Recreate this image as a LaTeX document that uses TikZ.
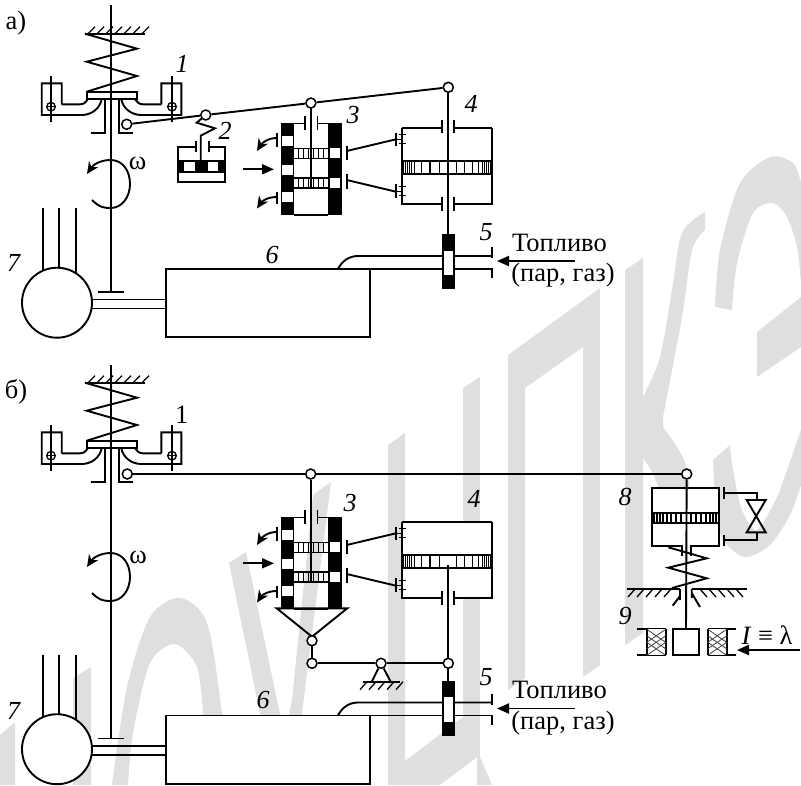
\documentclass[tikz,border=0pt]{standalone}
\usepackage{fontspec}
\setmainfont{Liberation Serif}
\usetikzlibrary{arrows.meta}
\definecolor{wm}{HTML}{DFDFDF}
\tikzset{
  main/.style={line width=1.9pt},
  thin line/.style={line width=1.3pt},
  wmark/.style={fill=wm,draw=none},
  pivot/.style={circle,draw=black,fill=white,line width=1.5pt,inner sep=0pt,minimum size=10pt},
  lab/.style={inner sep=0pt,font=\fontsize{26.5}{26.5}\selectfont},
  ilab/.style={inner sep=0pt,font=\fontsize{26}{26}\selectfont\itshape},
  flow/.style={main,-{Triangle[length=12pt,width=10pt]}},
  bent/.style={main,-{Stealth[length=12pt,width=11pt]}},
  governor/.pic={
    \draw[main] (85,33.7) -- (145,33.7);
    \foreach \x in {88,97,106,115,124,133,142} \draw[thin line] (\x,33.7) -- ++(7,-7);
    \draw[main] (85,33.7) -- (137,48.7) -- (86.7,61.7) -- (137,76) -- (86.7,91.7);
    \draw[main] (86.7,91.7) rectangle (137.3,99.3);
    \foreach \s/\m in {1/0,-1/223} {
      \begin{scope}[xshift=\m pt,xscale=\s]
      \draw[main] (61.7,104.3) -- (61.7,83.3) -- (41.7,83.3) -- (41.7,115) -- (81.7,115) .. controls (92,115) and (100,108) .. (101.7,99.3);
      \draw[main] (61.7,104.3) -- (80,104.3) .. controls (84,104.3) and (86,102) .. (88,99.3);
      \draw[thin line] (51,76) -- (51,121.7);
      \draw[thin line] (51,106.7) circle (4.3pt);
      \draw[thin line] (46,106.7) -- (56,106.7);
      \end{scope}
    }
    \draw[main] (90.7,132.7) -- (105,132.7) -- (105,99.3);
    \draw[main] (133.3,132.7) -- (119,132.7) -- (119,99.3);
  },
  omega/.pic={
    \draw[bent] (92,200) .. controls (100,208) and (105,208) .. (110.7,208) .. controls (122,208) and (130,197) .. (130,184) .. controls (130,170) and (122,160) .. (110.7,160) .. controls (100,160) and (93,165) .. (87,174);
  },
  valve3/.pic={
    \fill (280.7,123.3) rectangle (294,215);
    \fill (328.3,123.3) rectangle (341.7,215);
    \draw[thin line] (294,215) -- (328.3,215);
    \foreach \y in {136,165,191.7} \fill[white] (282.3,\y) rectangle (292.7,\y+9.8);
    \foreach \y in {148.3,178.3} \fill[white] (329.5,\y) rectangle (340,\y+9.5);
    \foreach \y in {148.3,177.9} {
      \draw[thin line] (294,\y) -- (328.3,\y) (294,\y+10) -- (328.3,\y+10);
      \foreach \x in {298.3,303.3,308.3,313.3,318.3,323.3}
        \draw[line width=1.6pt] (\x,\y) -- (\x,\y+10);
    }
    \draw[thin line] (294,123.6) -- (305,123.6) (305,116) -- (305,130);
    \draw[thin line] (328.3,123.6) -- (317.3,123.6) (317.3,116) -- (317.3,130);
    \draw[flow] (242.7,169.3) -- (274,169.3);
    \draw[main] (276.7,133) -- (276.7,146.7) (276.7,191.7) -- (276.7,204);
    \draw[bent] (276.7,138) .. controls (268,138) and (262,143) .. (257,151);
    \draw[bent] (276.7,197) .. controls (268,197) and (262,201) .. (257,208.5);
    \draw[main] (346.7,145.7) -- (346.7,160) (346.7,174.3) -- (346.7,189);
    \draw[main] (346.7,151) -- (396,139.3) (346.7,180) -- (396,191.7);
    \draw[main] (396,133.3) -- (396,145.7) (396,184) -- (396,198.3);
    \draw[thin line] (396,139.3) -- (402.3,139.3) (396,191.7) -- (402.3,191.7);
  },
  cyl/.pic={
    \fill[white] (402.3,127.7) rectangle (491.7,204.3);
    \draw[main] (402.3,127.7) -- (402.3,204.3) -- (442.3,204.3) (454.3,204.3) -- (491.7,204.3) -- (491.7,127.7);
    \draw[main] (442.3,196.7) -- (442.3,211) (454.3,196.7) -- (454.3,211);
    \foreach \y in {134.3,143.3,186.7,195.7} \draw[thin line] (399,\y) -- (406,\y);
    \draw[main] (402.3,161) -- (491.7,161) (402.3,174) -- (491.7,174);
    \foreach \x in {403.5,405.5,407.5,409.5,411.5,414.3,421.7,430,439.3,456.7,464.3,472.7,478.3,482.5,484.5,486.5,488.5,490.5}
      \draw[line width=1.2pt] (\x,161) -- (\x,174);
  },
  plant/.pic={
    \foreach \x in {43,59.3,76.3} \draw[main] (\x,208) -- (\x,280);
    \filldraw[main,fill=white] (57,302.7) circle (35pt);
    \draw[main] (92,299.5) -- (166,299.5) (92,308.5) -- (166,308.5);
    \draw[main] (98,292) -- (124,292);
    \filldraw[main,fill=white] (166,269) rectangle (370,337.3);
    \draw[main] (338,269) .. controls (342,261) and (349,256) .. (358,256) -- (491.7,256);
    \draw[main] (370,269) -- (491.7,269);
    \draw[main] (491.7,247) -- (491.7,258) (491.7,268) -- (491.7,278);
    \fill (441.7,234) rectangle (455,289.3);
    \fill[white] (443.5,250.7) rectangle (453.2,275);
  }
}
\begin{document}
\begin{tikzpicture}[x=1pt,y=-1pt,line cap=butt,line join=miter]
\useasboundingbox (0,0) rectangle (801,785);
% --- watermark ---
\fill[wmark] (0,735) -- (15,722) -- (15,785) -- (0,785) -- cycle;
\fill[wmark] (73,678) -- (91,667) -- (91,785) -- (73,785) -- cycle;
\fill[wmark] plot[smooth] coordinates {(112,785) (127,687) (150,617) (180,598) (207,623) (222,713) (228,785)} -- (205,785) -- plot[smooth] coordinates {(203,713) (197,667) (175,644) (150,663) (133,733) (128,785)} -- cycle;
\fill[wmark] (229,563) -- (246,552) -- (277,700) -- (285,735) -- (292,700) -- (313,495) -- (331,482) -- (302,713) -- (292,785) -- (277,785) -- (260,713) -- cycle;
\fill[wmark] (388,445) -- (405,433) -- (405,761) -- (463,717) -- (463,388) -- (480,377) -- (480,757) -- (492,785) -- (477,785) -- (477,757) -- (440,785) -- (388,785) -- cycle;
\fill[wmark] (508,355) -- (600,288) -- (600,665) -- (583,677) -- (583,347) -- (525,388) -- (525,678) -- (508,690) -- cycle;
\fill[wmark] (625,270) -- (643,258) -- (643,633) -- (625,645) -- cycle;
\fill[wmark] plot[smooth] coordinates {(643,397) (660,357) (672,290) (682,233) (705,212)} -- plot[smooth] coordinates {(705,230) (692,250) (682,317) (663,417)} -- plot[smooth] coordinates {(663,427) (677,447) (687,470) (697,545)} -- plot[smooth] coordinates {(672,545) (657,483) (643,458)} -- cycle;
\fill[wmark] plot[smooth] coordinates {(715,307) (720,250) (740,183) (770,157) (793,163) (801,183)} -- plot[smooth] coordinates {(801,283) (797,247) (787,217) (773,203) (753,213) (737,263) (732,310)} -- cycle;
\fill[wmark] (757,332) -- (801,297) -- (801,347) -- (757,377) -- cycle;
\fill[wmark] plot[smooth] coordinates {(713,460) (716,510) (723,540) (745,557) (770,545) (790,515) (801,485)} -- plot[smooth] coordinates {(801,430) (787,470) (777,497) (757,530) (742,510) (733,470) (730,445)} -- cycle;
% --- scheme a ---
\node[lab] (tagA) at (16,23) {а)};
\draw[main] (110.7,5) -- (110.7,292);
\pic at (0,0) {governor};
\pic at (0,0) {omega};
\node[lab] (wA) at (137.7,163) {ω};
\pic at (0,0) {plant};
\pic at (0,0) {cyl};
\draw[main] (402.3,127.7) -- (442.3,127.7) (454.3,127.7) -- (491.7,127.7);
\draw[main] (442.3,120) -- (442.3,132.7) (454.3,120) -- (454.3,132.7);
\pic at (0,0) {valve3};
\draw[main] (310.7,102) -- (310.7,188.3);
\node[pivot] (a0) at (126.7,124.3) {};
\node[pivot] (a1) at (205.7,115) {};
\node[pivot] (a2) at (310.9,103) {};
\node[pivot] (a3) at (448.3,87.3) {};
\draw[main] (a0) -- (a1) (a1) -- (a2) (a2) -- (a3);
\draw[main] (a3) -- (448.3,234);
% sensor 2
\draw[main] (a1) -- (196.7,122.7) -- (215,128.3) -- (200.7,135.7) -- (200.7,160);
\fill (177.7,160) rectangle (225,172.7);
\fill[white] (184,161.7) rectangle (194.5,171);
\fill[white] (208.3,161.7) rectangle (218.3,171);
\draw[main] (196,146.7) -- (177.7,146.7) -- (177.7,182.3) -- (225,182.3) -- (225,146.7) -- (209.3,146.7);
\draw[main] (196,140.7) -- (196,151.7) (209.3,140.7) -- (209.3,151.7);
\draw[flow] (575,261) -- (497,261);
\node[lab] (fuelA) at (559.5,242.5) {Топливо};
\node[lab] (gasA) at (563,275.5) {(пар, газ)};
\node[ilab] (n1A) at (182,63.5) {1};
\node[ilab] (n2A) at (225,131) {2};
\node[ilab] (n3A) at (353,115) {3};
\node[ilab] (n4A) at (471,104) {4};
\node[ilab] (n5A) at (486,232) {5};
\node[ilab] (n6A) at (272,255) {6};
\node[ilab] (n7A) at (13.5,263) {7};
% --- scheme b ---
\node[lab] (tagB) at (16,392) {б)};
\draw[main] (110.7,365) -- (110.7,739);
\pic at (0,349) {governor};
\pic at (0,393) {omega};
\node[lab] (wB) at (138,557) {ω};
\pic at (0,446.5) {plant};
\pic at (0,394) {cyl};
\draw[main] (402.3,521.7) -- (491.7,521.7);
\pic at (0,394) {valve3};
\node[pivot] (b0) at (127.3,474) {};
\node[pivot] (b1) at (310.7,474) {};
\node[pivot] (b2) at (686.7,474) {};
\draw[main] (b0) -- (b1) (b1) -- (b2);
\draw[main] (b1) -- (310.7,582);
% cone and lever
\draw[main] (276.7,608.3) -- (347.3,608.3) -- (312,636.7) -- cycle;
\node[pivot] (c1) at (312,640.7) {};
\node[pivot] (c2) at (312,663.3) {};
\node[pivot] (c3) at (381,663.3) {};
\node[pivot] (c4) at (448.3,663.3) {};
\draw[main] (c1) -- (c2) (c2) -- (c3) (c3) -- (c4);
\draw[main] (448.3,565) -- (c4);
\draw[main] (c4) -- (448.3,681.7);
\draw[main] (c3) -- (371.7,681.7) (c3) -- (390.7,681.7);
\draw[main] (363.3,681.7) -- (400,681.7);
\foreach \x in {370,379,388,397,406} \draw[thin line] (\x-3,681.7) -- ++(-7,8);
\draw[flow] (575,708.5) -- (497,708.5);
\node[lab] (fuelB) at (559.5,690) {Топливо};
\node[lab] (gasB) at (563,723) {(пар, газ)};
\node[lab] (n1B) at (181.7,415) {1};
\node[ilab] (n3B) at (350,503) {3};
\node[ilab] (n4B) at (474,499) {4};
\node[ilab] (n5B) at (486,677) {5};
\node[ilab] (n6B) at (263,700) {6};
\node[ilab] (n7B) at (13.5,710.5) {7};
\node[ilab] (n8B) at (625,497) {8};
\node[ilab] (n9B) at (625,616) {9};
% cylinder 8
\filldraw[main,fill=white] (651.7,487.7) rectangle (719,546);
\fill[white] (682.7,544) rectangle (690,548);
\draw[main] (681.7,546) -- (681.7,556) (691,546) -- (691,556);
\draw[main] (651.7,513.3) -- (719,513.3) (651.7,522.7) -- (719,522.7);
\foreach \x in {654,657,660,663,667,671,676,681,691,696,701,706,710,713,716}
  \draw[line width=1.1pt] (\x,513.3) -- (\x,522.7);
\draw[main] (724,487.3) -- (724,499.3) (724,535) -- (724,546);
\draw[main] (724,492.7) -- (756.7,492.7) -- (756.7,500);
\draw[main] (746.7,500) -- (765.7,500) -- (746.7,532.3) -- (765.7,532.3) -- cycle;
\draw[main] (756.7,532.3) -- (756.7,540) -- (724,540);
\draw[main] (b2) -- (686,629.3);
\draw[main] (668.3,547.3) -- (706.7,558.3) -- (668.3,567.7) -- (706.7,578.3) -- (672,588);
% ground
\draw[main] (626.7,589) -- (680,589) (691.7,589) -- (746.7,589);
\foreach \x in {635,644,653,662,671} \draw[thin line] (\x,589) -- ++(-7,8);
\foreach \x in {700,709,718,727,736} \draw[thin line] (\x,589) -- ++(7,8);
\draw[main] (680,589) -- (680,600) (680,596) -- (672.7,605.7);
\draw[main] (691.7,589) -- (691.7,598) (691.7,593) -- (700,607);
% core and coils
\draw[main] (673.3,629.3) rectangle (699.3,655);
\draw[main] (637.3,629.3) -- (665.7,629.3) (637.3,655.3) -- (665.7,655.3);
\draw[main] (707.7,629.3) -- (736,629.3) (707.7,655.3) -- (736,655.3);
\foreach \a in {646.7,707.7} {
  \begin{scope}[xshift=\a pt]
  \fill[white] (0,629.3) rectangle (19,655.3);
  \draw[main] (0,629.3) -- (0,655.3) (19,629.3) -- (19,655.3);
  \foreach \d in {0,6.5,13} {
    \draw[line width=0.8pt,black!75] (0,629.3+\d) -- (19,642.3+\d);
    \draw[line width=0.8pt,black!75] (0,642.3+\d) -- (19,629.3+\d);
  }
  \end{scope}
}
\draw[flow] (800,650) -- (737,650);
\node[lab] (cur) at (767,635) {\textit{I} ≡ λ};
\end{tikzpicture}
\end{document}
